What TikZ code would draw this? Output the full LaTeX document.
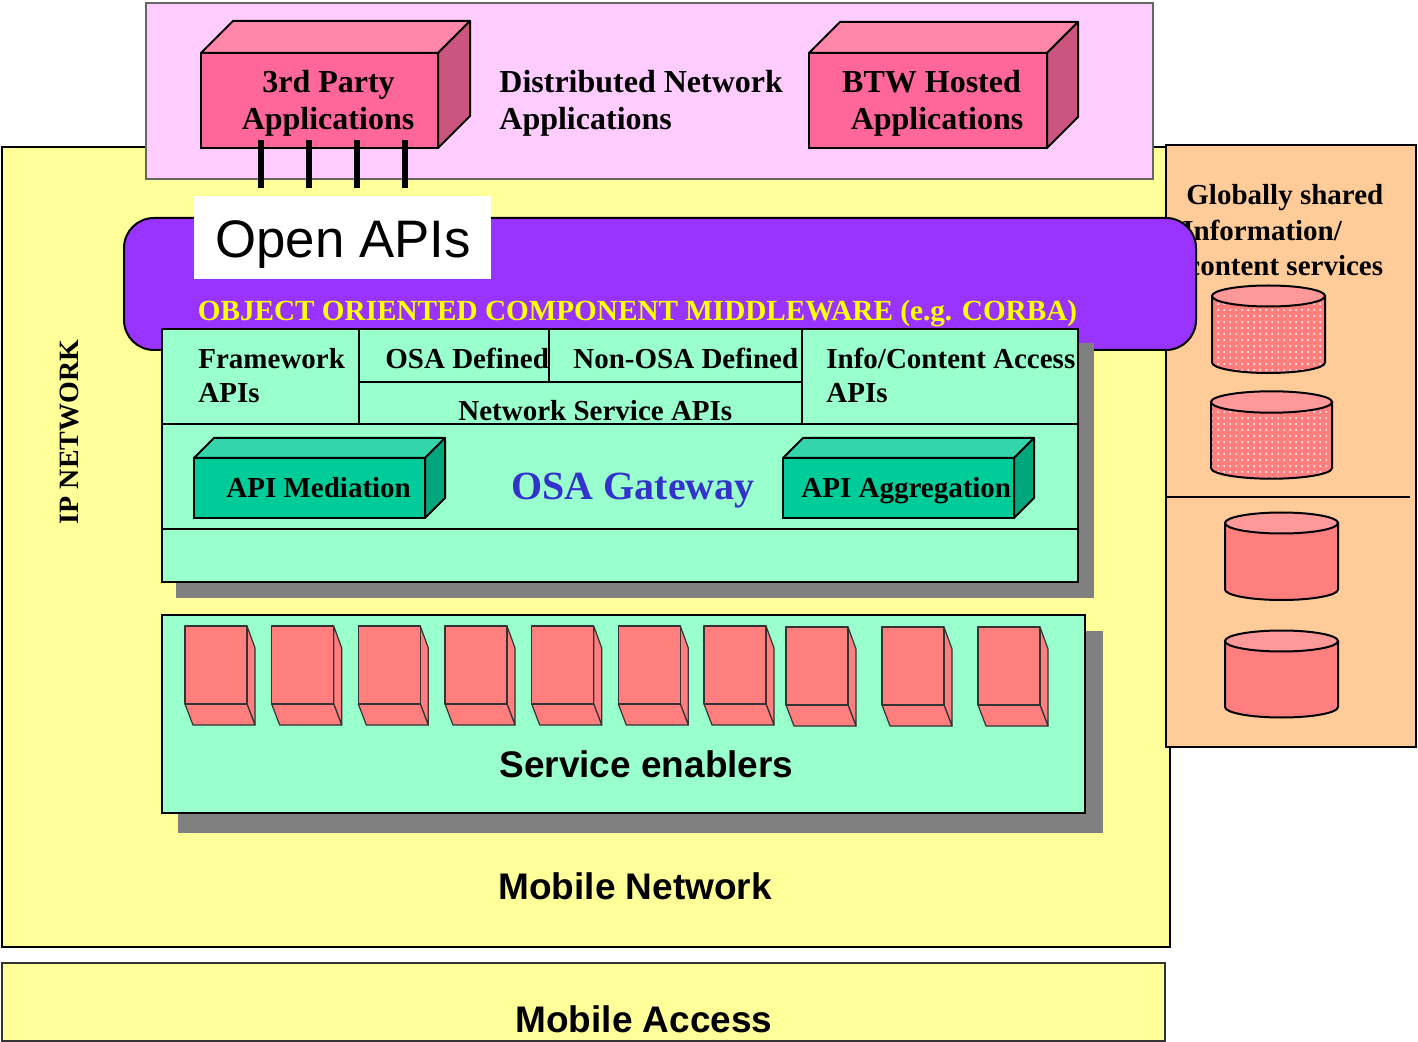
\documentclass[tikz,border=0pt]{standalone}
\usepackage{fontspec}
\setmainfont{Liberation Serif}
\newfontfamily\arialfont{Liberation Sans}
\usetikzlibrary{patterns}
\definecolor{ipyellow}{HTML}{FFFF99}
\definecolor{toppink}{HTML}{FFCCFF}
\definecolor{infoorange}{HTML}{FFCC99}
\definecolor{mwpurple}{HTML}{9933FF}
\definecolor{gwgreen}{HTML}{99FFCC}
\definecolor{shadowgray}{HTML}{808080}
\definecolor{appfront}{HTML}{FF6699}
\definecolor{apptop}{HTML}{FF88AA}
\definecolor{appside}{HTML}{CC5580}
\definecolor{tealfront}{HTML}{00CC99}
\definecolor{tealtop}{HTML}{33D6AA}
\definecolor{tealside}{HTML}{00A67C}
\definecolor{enabred}{HTML}{FF7F7F}
\definecolor{cyltop}{HTML}{FF9999}
\definecolor{gwblue}{HTML}{3333CC}
\definecolor{mwyellow}{HTML}{FFFF00}

% 3D box seen from upper right: x1,y1 (front top-left), x2,y2 (front bottom-right), depth, front, top, side
\newcommand{\cubetop}[8]{%
  \filldraw[fill=#7,line width=1pt,line join=round] (#1,#2) -- (#1+#5,#2-#5) -- (#3+#5,#2-#5) -- (#3,#2) -- cycle;
  \filldraw[fill=#8,line width=1pt,line join=round] (#3,#2) -- (#3+#5,#2-#5) -- (#3+#5,#4-#5) -- (#3,#4) -- cycle;
  \filldraw[fill=#6,line width=1pt] (#1,#2) rectangle (#3,#4);}
% service enabler block seen from below right: x, y of front top-left
\newcommand{\senabler}[2]{%
  \filldraw[enab] (#1+62,#2) -- (#1+70,#2+22) -- (#1+70,#2+99) -- (#1+62,#2+78) -- cycle;
  \filldraw[enab] (#1,#2+78) -- (#1+8,#2+99) -- (#1+70,#2+99) -- (#1+62,#2+78) -- cycle;
  \filldraw[enab] (#1,#2) rectangle (#1+62,#2+78);}
% cylinder: cx, rx, top cy, bottom cy, ry, body style
\newcommand{\dbcyl}[6]{%
  \path[draw,line width=1pt,#6] (#1-#2,#3) -- (#1-#2,#4) arc[start angle=180,end angle=0,x radius=#2,y radius=#5] -- (#1+#2,#3) -- cycle;
  \filldraw[fill=cyltop,line width=1pt] (#1,#3) ellipse[x radius=#2,y radius=#5];}

\begin{document}
\begin{tikzpicture}[x=0.5pt,y=-0.5pt,
  border/.style={draw=black,line width=1pt},
  enab/.style={fill=enabred,draw=black!80,line width=0.6pt,line join=round},
  lbl/.style={font=\bfseries\fontsize{14.5}{17}\selectfont,anchor=base west,inner sep=0pt},
  applbl/.style={font=\bfseries\fontsize{16}{19}\selectfont,anchor=base,inner sep=0pt},
  sanslbl/.style={font=\arialfont\bfseries\fontsize{18.5}{22}\selectfont,anchor=base west,inner sep=0pt},
  plug/.style={line width=3pt,black}]
\useasboundingbox (0,0) rectangle (1418,1042);

% IP network and mobile access
\filldraw[fill=ipyellow,border] (2,147) rectangle (1170,947);
\filldraw[fill=ipyellow,draw=black!80,line width=1pt] (2,963) rectangle (1165,1041);

% distributed network applications area
\filldraw[fill=toppink,draw=black!60,line width=0.8pt] (146,3) rectangle (1153,179);

% globally shared information area
\filldraw[fill=infoorange,border] (1166,145) rectangle (1416,747);
\draw[line width=1pt] (1166,497) -- (1410,497);
\node[lbl] (gs1) at (1186,205) {Globally shared};
\node[lbl] (gs2) at (1182,241) {Information/};
\node[lbl] (gs3) at (1187,276) {content services};
\dbcyl{1268.5}{56.5}{296}{362.5}{10.5}{preaction={fill=enabred},pattern=dots,pattern color=white}
\dbcyl{1271.5}{60.5}{402}{468}{10.7}{preaction={fill=enabred},pattern=dots,pattern color=white}
\dbcyl{1281.5}{56.5}{523}{589.5}{10.5}{fill=enabred}
\dbcyl{1281.5}{56.5}{641}{707}{10.5}{fill=enabred}

% middleware
\filldraw[fill=mwpurple,border,rounded corners=15pt] (124,218) rectangle (1196,350);
\fill[white] (194,196) rectangle (491,279);
\node[font=\arialfont\fontsize{26.4}{30}\selectfont,anchor=base west,inner sep=0pt] (openapis) at (215,258) {Open APIs};
\node[font=\bfseries\fontsize{14.6}{17}\selectfont,text=mwyellow,anchor=base,inner sep=0pt] (mw) at (637.5,321) {OBJECT ORIENTED COMPONENT MIDDLEWARE (e.g. CORBA)};

% OSA gateway
\fill[shadowgray] (176,343) rectangle (1094,598);
\filldraw[fill=gwgreen,border] (162,329) rectangle (1078,582);
\draw[line width=1pt] (162,424) -- (1078,424);
\draw[line width=1pt] (162,529) -- (1078,529);
\draw[line width=1pt] (359,329) -- (359,424);
\draw[line width=1pt] (549,329) -- (549,382);
\draw[line width=1pt] (802,329) -- (802,424);
\draw[line width=1pt] (359,382) -- (802,382);
\node[lbl] (fw1) at (198,369) {Framework};
\node[lbl] (fw2) at (198,403) {APIs};
\node[lbl] (osa) at (385,369) {OSA Defined};
\node[lbl] (nonosa) at (573,369) {Non-OSA Defined};
\node[lbl] (nsapi) at (458,421) {Network Service APIs};
\node[lbl] (ic1) at (826,369) {Info/Content Access};
\node[lbl] (ic2) at (826,403) {APIs};
\cubetop{194}{458}{425}{518}{20}{tealfront}{tealtop}{tealside}
\cubetop{783}{458}{1014}{518}{20}{tealfront}{tealtop}{tealside}
\node[lbl] (med) at (226,498) {API Mediation};
\node[lbl] (agg) at (801,498) {API Aggregation};
\node[font=\bfseries\fontsize{20}{24}\selectfont,text=gwblue,anchor=base west,inner sep=0pt] (gw) at (511,500) {OSA Gateway};

% service enablers
\fill[shadowgray] (178,631) rectangle (1103,833);
\filldraw[fill=gwgreen,border] (162,615) rectangle (1085,813);
\foreach \ex/\ey in {185/626,271.7/626,358.3/626,445/626,531.7/626,618.3/626,704/626,786/627,882/627,978/627}
  {\senabler{\ex}{\ey}}
\node[sanslbl] (se) at (499,777) {Service enablers};

% applications
\cubetop{201}{53}{438}{148}{32}{appfront}{apptop}{appside}
\cubetop{809}{53}{1047}{148}{31}{appfront}{apptop}{appside}
\node[applbl] (tp1) at (328.5,93) {3rd Party};
\node[applbl] (tp2) at (328,130) {Applications};
\node[applbl,anchor=base west] (dn1) at (499,93) {Distributed Network};
\node[applbl,anchor=base west] (dn2) at (499,130) {Applications};
\node[applbl] (btw1) at (931.5,93) {BTW Hosted};
\node[applbl] (btw2) at (937,130) {Applications};

% API plugs
\foreach \px in {261,309,357,405}
  {\coordinate (pa\px) at (\px,140); \coordinate (pb\px) at (\px,188); \draw[plug] (pa\px) -- (pb\px);}

% network labels
\node[rotate=90,font=\bfseries\fontsize{14}{16}\selectfont,inner sep=0pt] (ipnet) at (69,432) {IP NETWORK};
\node[sanslbl] (mobnet) at (498,899) {Mobile Network};
\node[sanslbl] (mobacc) at (515,1032) {Mobile Access};
\end{tikzpicture}
\end{document}
